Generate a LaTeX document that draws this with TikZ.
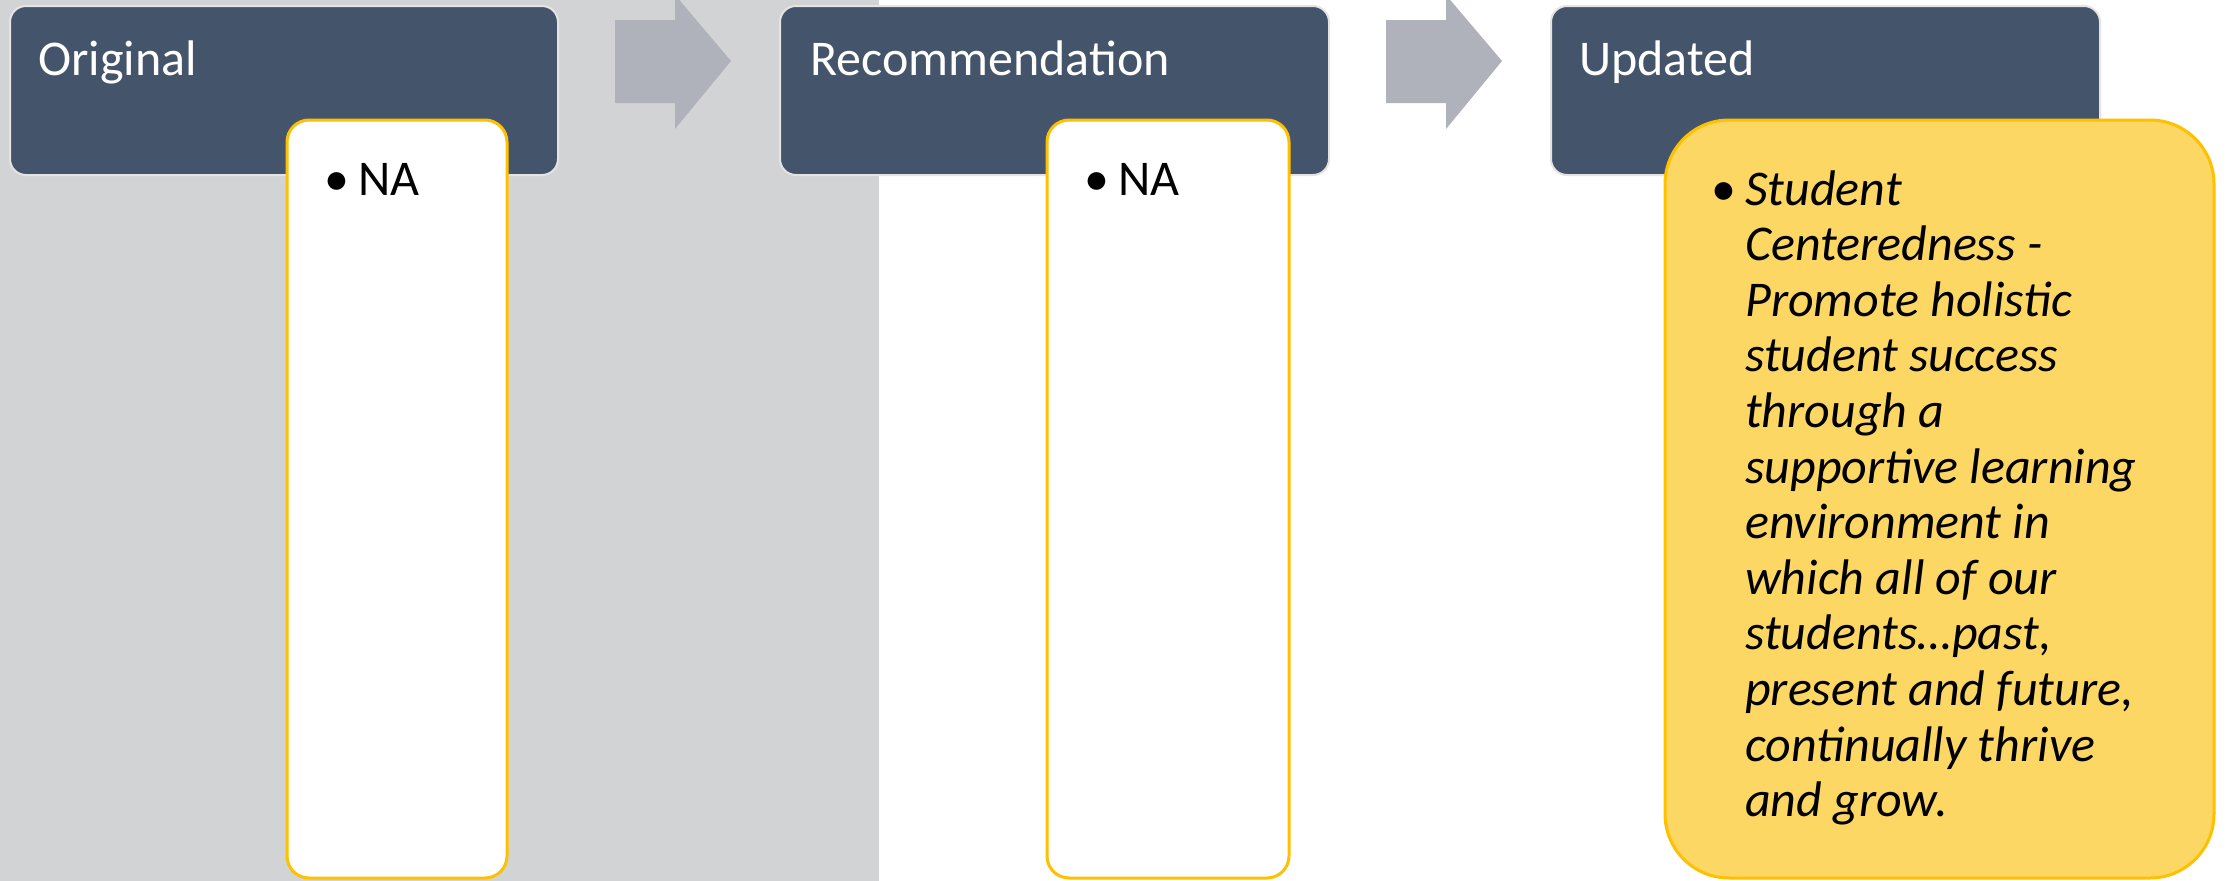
\documentclass[tikz,border=0pt]{standalone}
\usepackage{fontspec}
\setmainfont{Carlito}
\definecolor{bgGray}{HTML}{D1D3D5}
\definecolor{hdrFill}{HTML}{44546A}
\definecolor{hdrLine}{HTML}{E4E4E4}
\definecolor{cardLine}{HTML}{FFC000}
\definecolor{cardYellow}{HTML}{FDD764}
\definecolor{arrowGray}{HTML}{AFB2BA}
\tikzset{
  hdrbox/.style={fill=hdrFill, draw=hdrLine, line width=2pt, rounded corners=16pt},
  cardbox/.style={fill=white, draw=cardLine, line width=3pt, rounded corners=22pt},
  hotcard/.style={fill=cardYellow, draw=cardLine, line width=3pt, rounded corners=64pt},
  hdrtext/.style={anchor=base west, inner sep=0pt, text=white, font=\fontsize{50}{56}\selectfont},
  bodytext/.style={anchor=base west, inner sep=0pt, text=black, font=\fontsize{50}{55.6}\selectfont},
  flowarrow/.style={fill=arrowGray, draw=none}
}
\newcommand{\bulletitem}[2]{\parbox[t]{#1}{\noindent\hangindent=34pt\hangafter=1\makebox[34pt][l]{\upshape\textbullet}#2}}
\begin{document}
\begin{tikzpicture}[x=1pt,y=-1pt]
\useasboundingbox (0,0) rectangle (2231,881);
\fill[white] (0,0) rectangle (2231,881);
% gray panel
\fill[bgGray] (0,0) rectangle (879,881);
% arrows
\fill[flowarrow] (615,20) -- (675,20) -- (675,-5) -- (731,61) -- (675,129) -- (675,103) -- (615,103) -- cycle;
\fill[flowarrow] (1386,20) -- (1446,20) -- (1446,-5) -- (1502,61) -- (1446,129) -- (1446,103) -- (1386,103) -- cycle;
% header boxes
\draw[hdrbox] (10,6) rectangle (558,175);
\draw[hdrbox] (780,6) rectangle (1329,175);
\draw[hdrbox] (1551,6) rectangle (2100,175);
\node[hdrtext] (h1) at (38,75) {Original};
\node[hdrtext] (h2) at (810,75) {Recommendation};
\node[hdrtext] (h3) at (1579,75) {Updated};
% cards
\draw[cardbox] (287,120) rectangle (507,878);
\draw[cardbox] (1047,120) rectangle (1289,878);
\draw[hotcard] (1665,120) rectangle (2214,878);
\node[bodytext] (t1) at (324,195) {\bulletitem{170pt}{NA}};
\node[bodytext] (t2) at (1084,195) {\bulletitem{180pt}{NA}};
\node[bodytext] (t3) at (1711,205) {\bulletitem{480pt}{\itshape Student\\
Centeredness -\\
Promote holistic\\
student success\\
through a\\
supportive learning\\
environment in\\
which all of our\\
students…past,\\
present and future,\\
continually thrive\\
and grow.}};
\end{tikzpicture}
\end{document}
